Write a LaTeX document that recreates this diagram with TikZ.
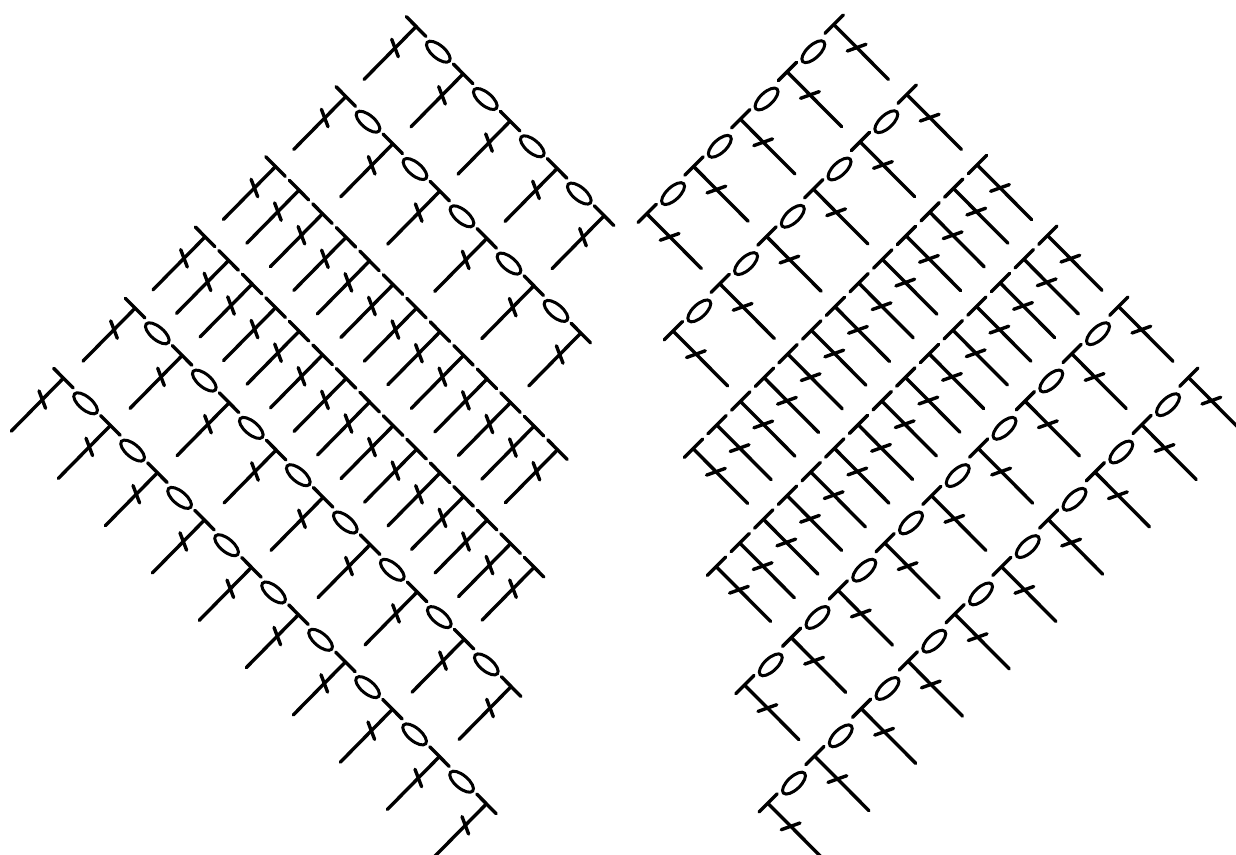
\documentclass[tikz,border=0pt]{standalone}
\tikzset{
  stitchline/.style={line width=3.4pt,line cap=round,black},
  leftT/.pic={
    \draw[stitchline] (-9.6,-10) -- (9.8,9.6);
    \draw[stitchline] (0,0) -- (-52,52.8);
    \draw[stitchline] (-24.3,12.6) -- (-17.7,30);
  },
  rightT/.pic={
    \draw[stitchline] (9,-10) -- (-9.3,8.3);
    \draw[stitchline] (0,0) -- (54,54.3);
    \draw[stitchline] (13,26) -- (31.7,19.3);
  },
  leftO/.pic={
    \draw[line width=3pt,black] (22.3,25) ellipse [x radius=14.5pt,y radius=6.4pt,rotate=-40];
  },
  rightO/.pic={
    \draw[line width=3pt,black] (-21,26.7) ellipse [x radius=14.5pt,y radius=6.4pt,rotate=43];
  }
}
% x, y, last index
\newcommand{\leftOvalRow}[3]{%
  \foreach \i in {0,...,#3}{\pic at ({#1+\i*47},{#2+\i*47.3}) {leftT};}
  \pgfmathtruncatemacro{\lastO}{#3-1}
  \foreach \i in {0,...,\lastO}{\pic at ({#1+\i*47},{#2+\i*47.3}) {leftO};}
}
\newcommand{\leftPlainRow}[3]{%
  \foreach \i in {0,...,#3}{\pic at ({#1+\i*23.5},{#2+\i*23.6}) {leftT};}
}
\newcommand{\rightOvalRow}[3]{%
  \foreach \i in {0,...,#3}{\pic at ({#1-\i*46.75},{#2+\i*47.3}) {rightT};}
  \pgfmathtruncatemacro{\lastO}{#3-1}
  \foreach \i in {0,...,\lastO}{\pic at ({#1-\i*46.75},{#2+\i*47.3}) {rightO};}
}
\newcommand{\rightPlainRow}[3]{%
  \foreach \i in {0,...,#3}{\pic at ({#1-\i*23.67},{#2+\i*23.65}) {rightT};}
}
\begin{document}
\begin{tikzpicture}[x=1pt,y=-1pt]
\useasboundingbox (0,0) rectangle (1236,854);
\fill[white] (0,0) rectangle (1236,854);
\clip (0,0) rectangle (1236,854);
% left wing
\leftOvalRow{416}{26.7}{4}
\leftOvalRow{345.7}{96.7}{5}
\leftPlainRow{275.4}{166.7}{12}
\leftPlainRow{205}{237}{14}
\leftOvalRow{135}{308.3}{8}
\leftOvalRow{63.3}{378.3}{9}
% right wing
\rightOvalRow{834.3}{25}{4}
\rightOvalRow{907.3}{95}{5}
\rightPlainRow{977.6}{165.3}{12}
\rightPlainRow{1048}{236}{14}
\rightOvalRow{1119}{307}{8}
\rightOvalRow{1189}{378}{9}
\end{tikzpicture}
\end{document}
